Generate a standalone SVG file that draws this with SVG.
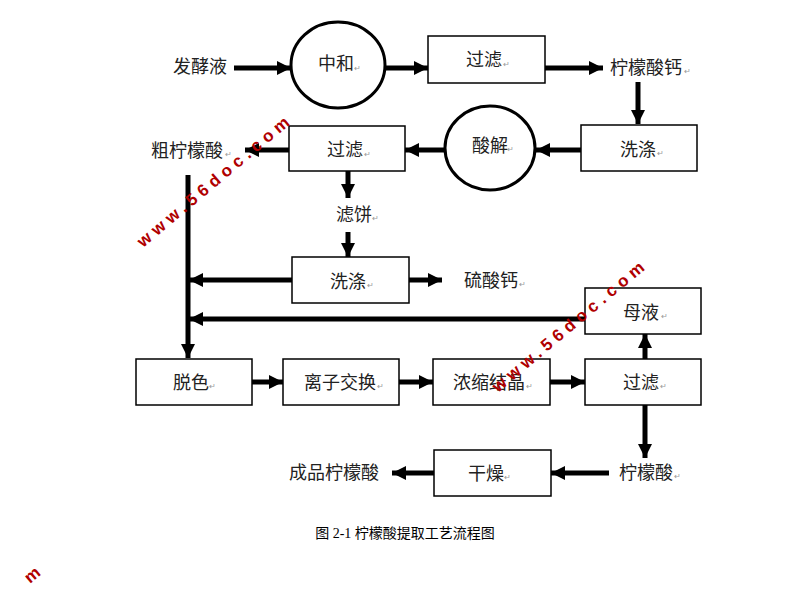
<svg xmlns="http://www.w3.org/2000/svg" width="810" height="590" viewBox="0 0 810 590">
<defs>
<style>
.box{fill:#fff;stroke:#000;stroke-width:1.5}
.circ{fill:#fff;stroke:#000;stroke-width:3}
.t{font-family:"Liberation Serif","Noto Sans CJK SC",serif;font-size:18px;fill:#222;text-anchor:middle;dominant-baseline:central}
.p{font-family:"Liberation Sans",sans-serif;font-size:8px;fill:#999}
.ln{stroke:#000;stroke-width:5;fill:none}
.cap{font-family:"Liberation Serif","Noto Sans CJK SC",serif;font-size:14px;fill:#000;text-anchor:middle}
.wm{font-family:"Liberation Sans",sans-serif;font-size:17px;font-weight:bold;fill:#b00000;letter-spacing:5px}
</style>
<marker id="ah" viewBox="0 0 10 10" refX="10" refY="5" markerWidth="2.8" markerHeight="2.8" orient="auto" markerUnits="strokeWidth">
<path d="M0,0 L10,5 L0,10 z" fill="#000"/>
</marker>
</defs>
<g id="connectors">
<line class="ln" x1="234" y1="68" x2="291" y2="68" marker-end="url(#ah)"/>
<line class="ln" x1="386" y1="68" x2="428" y2="68" marker-end="url(#ah)"/>
<line class="ln" x1="545" y1="68" x2="603" y2="68" marker-end="url(#ah)"/>
<line class="ln" x1="638" y1="82" x2="638" y2="124" marker-end="url(#ah)"/>
<line class="ln" x1="581" y1="150" x2="536" y2="150" marker-end="url(#ah)"/>
<line class="ln" x1="445" y1="150" x2="405" y2="150" marker-end="url(#ah)"/>
<line class="ln" x1="289" y1="150" x2="245" y2="150" marker-end="url(#ah)"/>
<line class="ln" x1="348" y1="171" x2="348" y2="198" marker-end="url(#ah)"/>
<line class="ln" x1="348" y1="232" x2="348" y2="257" marker-end="url(#ah)"/>
<line class="ln" x1="409" y1="280" x2="442" y2="280" marker-end="url(#ah)"/>
<line class="ln" x1="292" y1="280" x2="189" y2="280" marker-end="url(#ah)"/>
<line class="ln" x1="585" y1="319" x2="189" y2="319" marker-end="url(#ah)"/>
<line class="ln" x1="188" y1="175" x2="188" y2="358" marker-end="url(#ah)"/>
<line class="ln" x1="252" y1="382" x2="283" y2="382" marker-end="url(#ah)"/>
<line class="ln" x1="399" y1="382" x2="433" y2="382" marker-end="url(#ah)"/>
<line class="ln" x1="550" y1="382" x2="585" y2="382" marker-end="url(#ah)"/>
<line class="ln" x1="645" y1="359" x2="645" y2="334" marker-end="url(#ah)"/>
<line class="ln" x1="645" y1="405" x2="645" y2="458" marker-end="url(#ah)"/>
<line class="ln" x1="609" y1="473" x2="551" y2="473" marker-end="url(#ah)"/>
<line class="ln" x1="434" y1="473" x2="392" y2="473" marker-end="url(#ah)"/>
</g>
<g id="n-fajiaoye"><text class="t" x="200" y="67">发酵液</text></g>
<g id="n-zhonghe"><ellipse class="circ" cx="338" cy="65" rx="47" ry="43"/><text class="t" x="336" y="64">中和</text><text class="p" x="354" y="71">↵</text></g>
<g id="n-guolv1"><rect class="box" x="428" y="36" width="117" height="47"/><text class="t" x="484" y="60">过滤</text><text class="p" x="503" y="67">↵</text></g>
<g id="n-ningmengsuangai"><text class="t" x="646" y="68">柠檬酸钙</text><text class="p" x="684" y="74">↵</text></g>
<g id="n-xidi1"><rect class="box" x="581" y="125" width="116" height="46"/><text class="t" x="638" y="150">洗涤</text><text class="p" x="657" y="156">↵</text></g>
<g id="n-suanjie"><ellipse class="circ" cx="490" cy="148" rx="45" ry="42"/><text class="t" x="490" y="146">酸解</text><text class="p" x="507" y="152">↵</text></g>
<g id="n-guolv2"><rect class="box" x="289" y="126" width="116" height="45"/><text class="t" x="345" y="150">过滤</text><text class="p" x="364" y="157">↵</text></g>
<g id="n-cuningmengsuan"><text class="t" x="187" y="151">粗柠檬酸</text><text class="p" x="225" y="157">↵</text></g>
<g id="n-lvbing"><text class="t" x="354" y="215">滤饼</text><text class="p" x="372" y="221">↵</text></g>
<g id="n-xidi2"><rect class="box" x="292" y="257" width="117" height="46"/><text class="t" x="348" y="282">洗涤</text><text class="p" x="367" y="288">↵</text></g>
<g id="n-liusuangai"><text class="t" x="491" y="281">硫酸钙</text><text class="p" x="519" y="287">↵</text></g>
<g id="n-muye"><rect class="box" x="585" y="288" width="116" height="46"/><text class="t" x="641" y="313">母液</text><text class="p" x="661" y="319">↵</text></g>
<g id="n-tuose"><rect class="box" x="136" y="359" width="116" height="46"/><text class="t" x="191" y="383">脱色</text><text class="p" x="209" y="389">↵</text></g>
<g id="n-lizijiaohuan"><rect class="box" x="283" y="359" width="116" height="46"/><text class="t" x="340" y="383">离子交换</text><text class="p" x="377" y="389">↵</text></g>
<g id="n-nongsuojiejing"><rect class="box" x="433" y="359" width="117" height="46"/><text class="t" x="489" y="383">浓缩结晶</text><text class="p" x="526" y="389">↵</text></g>
<g id="n-guolv3"><rect class="box" x="585" y="359" width="116" height="46"/><text class="t" x="641" y="383">过滤</text><text class="p" x="660" y="389">↵</text></g>
<g id="n-ningmengsuan"><text class="t" x="646" y="473">柠檬酸</text><text class="p" x="674" y="479">↵</text></g>
<g id="n-ganzao"><rect class="box" x="434" y="450" width="117" height="46"/><text class="t" x="486" y="474">干燥</text><text class="p" x="504" y="480">↵</text></g>
<g id="n-chengpin"><text class="t" x="334" y="473">成品柠檬酸</text></g>
<text class="cap" x="405" y="538">图 2-1 柠檬酸提取工艺流程图</text>
<g id="watermarks">
<text class="wm" x="0" y="0" transform="translate(143,248) rotate(-40)">www.56doc.com</text>
<text class="wm" x="0" y="0" transform="translate(498,393) rotate(-40)">www.56doc.com</text>
<text class="wm" x="0" y="0" transform="translate(30,584) rotate(-40)">m</text>
</g>
</svg>
